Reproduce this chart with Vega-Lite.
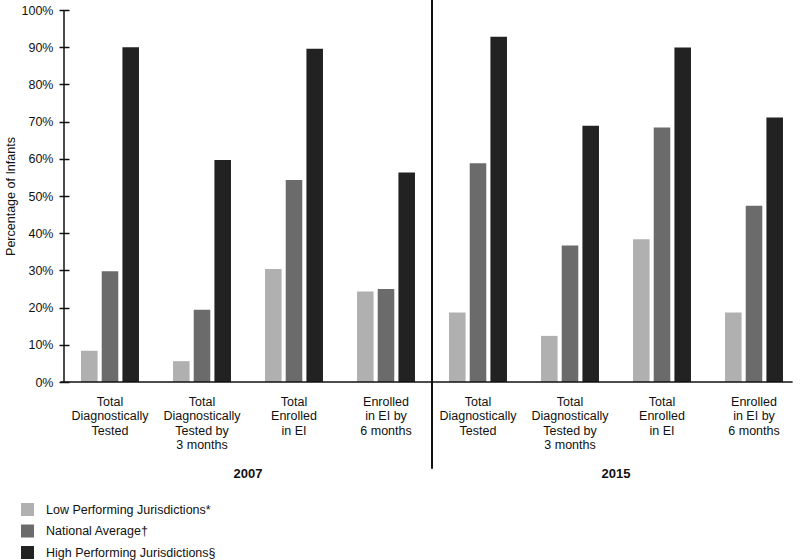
{
  "$schema": "https://vega.github.io/schema/vega-lite/v6.json",
  "width": 736,
  "height": 372,
  "autosize": {"type": "none"},
  "padding": {"left": 64, "top": 10, "right": 0, "bottom": 178},
  "background": "white",
  "config": {
    "view": {"stroke": null},
    "font": "Liberation Sans",
    "text": {"font": "Liberation Sans"}
  },
  "datasets": {
    "bars": [
      {"cat": "2007|Total|Diagnostically|Tested", "series": "Low Performing Jurisdictions*", "value": 8.4},
      {"cat": "2007|Total|Diagnostically|Tested", "series": "National Average†", "value": 29.8},
      {"cat": "2007|Total|Diagnostically|Tested", "series": "High Performing Jurisdictions§", "value": 90.0},
      {"cat": "2007|Total|Diagnostically|Tested by|3 months", "series": "Low Performing Jurisdictions*", "value": 5.6},
      {"cat": "2007|Total|Diagnostically|Tested by|3 months", "series": "National Average†", "value": 19.4},
      {"cat": "2007|Total|Diagnostically|Tested by|3 months", "series": "High Performing Jurisdictions§", "value": 59.7},
      {"cat": "2007|Total|Enrolled|in EI", "series": "Low Performing Jurisdictions*", "value": 30.4},
      {"cat": "2007|Total|Enrolled|in EI", "series": "National Average†", "value": 54.3},
      {"cat": "2007|Total|Enrolled|in EI", "series": "High Performing Jurisdictions§", "value": 89.6},
      {"cat": "2007|Enrolled|in EI by|6 months", "series": "Low Performing Jurisdictions*", "value": 24.3},
      {"cat": "2007|Enrolled|in EI by|6 months", "series": "National Average†", "value": 25.0},
      {"cat": "2007|Enrolled|in EI by|6 months", "series": "High Performing Jurisdictions§", "value": 56.3},
      {"cat": "2015|Total|Diagnostically|Tested", "series": "Low Performing Jurisdictions*", "value": 18.7},
      {"cat": "2015|Total|Diagnostically|Tested", "series": "National Average†", "value": 58.8},
      {"cat": "2015|Total|Diagnostically|Tested", "series": "High Performing Jurisdictions§", "value": 92.8},
      {"cat": "2015|Total|Diagnostically|Tested by|3 months", "series": "Low Performing Jurisdictions*", "value": 12.4},
      {"cat": "2015|Total|Diagnostically|Tested by|3 months", "series": "National Average†", "value": 36.7},
      {"cat": "2015|Total|Diagnostically|Tested by|3 months", "series": "High Performing Jurisdictions§", "value": 68.9},
      {"cat": "2015|Total|Enrolled|in EI", "series": "Low Performing Jurisdictions*", "value": 38.4},
      {"cat": "2015|Total|Enrolled|in EI", "series": "National Average†", "value": 68.4},
      {"cat": "2015|Total|Enrolled|in EI", "series": "High Performing Jurisdictions§", "value": 89.9},
      {"cat": "2015|Enrolled|in EI by|6 months", "series": "Low Performing Jurisdictions*", "value": 18.7},
      {"cat": "2015|Enrolled|in EI by|6 months", "series": "National Average†", "value": 47.4},
      {"cat": "2015|Enrolled|in EI by|6 months", "series": "High Performing Jurisdictions§", "value": 71.1}
    ],
    "years": [{"year": "2007"}, {"year": "2015"}],
    "one": [{}]
  },
  "resolve": {"scale": {"x": "independent"}, "axis": {"y": "independent"}},
  "layer": [
    {
      "data": {"name": "bars"},
      "mark": {"type": "bar"},
      "encoding": {
        "x": {
          "field": "cat", "type": "nominal", "sort": null,
          "scale": {"paddingInner": 0.37, "paddingOuter": 0.185},
          "axis": {
            "title": null, "domain": false, "ticks": false, "labelAngle": 0,
            "labelExpr": "slice(split(datum.value, '|'), 1)",
            "labelFontSize": 12.5, "labelLineHeight": 14.5, "labelPadding": 13,
            "labelColor": "#111", "labelAlign": "center"
          }
        },
        "xOffset": {
          "field": "series", "type": "nominal",
          "scale": {"domain": ["Low Performing Jurisdictions*", "National Average†", "High Performing Jurisdictions§"], "paddingInner": 0.2, "paddingOuter": 0}
        },
        "y": {
          "field": "value", "type": "quantitative",
          "scale": {"domain": [0, 100], "nice": false},
          "axis": {
            "title": "Percentage of Infants", "titleFontSize": 12.5, "titleFontWeight": "normal",
            "titleColor": "#111", "titlePadding": 4,
            "values": [0, 10, 20, 30, 40, 50, 60, 70, 80, 90, 100],
            "grid": false, "domain": false, "ticks": true, "labelOverlap": false,
            "labelExpr": "datum.value + '%'", "labelFontSize": 12.5, "labelColor": "#111",
            "offset": -5, "tickSize": 10, "tickColor": "#111", "tickWidth": 1.5, "labelPadding": 6
          }
        },
        "color": {
          "field": "series", "type": "nominal",
          "scale": {"domain": ["Low Performing Jurisdictions*", "National Average†", "High Performing Jurisdictions§"], "range": ["#b0b0b0", "#6b6b6b", "#222222"]},
          "legend": {
            "title": null, "orient": "none", "legendX": -43, "legendY": 493,
            "symbolType": "square", "symbolSize": 169, "symbolStrokeWidth": 0,
            "labelFontSize": 12.5, "labelColor": "#111", "rowPadding": 8.5, "labelOffset": 12,
            "labelLimit": 0
          }
        }
      }
    },
    {
      "data": {"name": "one"},
      "mark": {"type": "rule", "color": "#111", "strokeWidth": 1.5},
      "encoding": {
        "x": {"datum": 0, "type": "quantitative", "scale": {"domain": [0, 8]}, "axis": null},
        "y": {"datum": 0, "type": "quantitative", "axis": null},
        "y2": {"datum": 100}
      }
    },
    {
      "data": {"name": "one"},
      "mark": {"type": "rule", "color": "#111", "strokeWidth": 1.5},
      "encoding": {
        "x": {"datum": -0.04, "type": "quantitative", "scale": {"domain": [0, 8]}, "axis": null},
        "x2": {"datum": 7.92},
        "y": {"datum": 0, "type": "quantitative", "axis": null}
      }
    },
    {
      "data": {"name": "one"},
      "mark": {"type": "rule", "color": "#111", "strokeWidth": 2},
      "encoding": {
        "x": {"datum": 4, "type": "quantitative", "scale": {"domain": [0, 8]}, "axis": null},
        "y": {"datum": 102.7, "type": "quantitative", "axis": null},
        "y2": {"datum": -23.3}
      }
    },
    {
      "data": {"name": "years"},
      "mark": {"type": "text", "fontWeight": "bold", "fontSize": 13, "color": "#111", "baseline": "middle"},
      "encoding": {
        "x": {"field": "year", "type": "nominal", "scale": {"paddingInner": 0, "paddingOuter": 0}, "axis": null},
        "y": {"datum": -24.6, "type": "quantitative", "axis": null},
        "text": {"field": "year"}
      }
    }
  ]
}
